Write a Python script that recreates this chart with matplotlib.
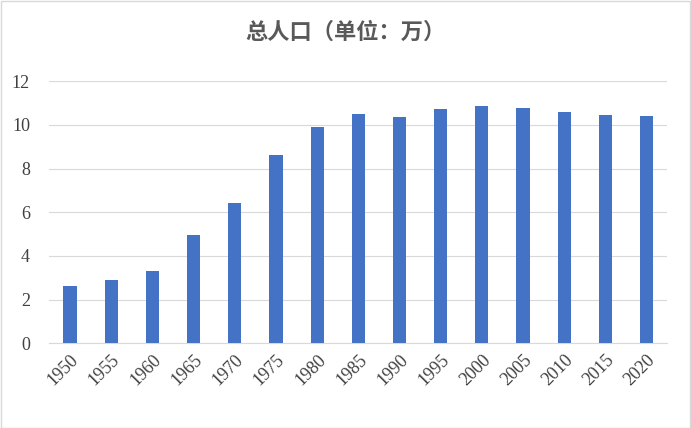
import matplotlib
matplotlib.use("Agg")
import matplotlib.pyplot as plt

years = ["1950","1955","1960","1965","1970","1975","1980","1985","1990","1995","2000","2005","2010","2015","2020"]
values = [2.62, 2.9, 3.3, 4.97, 6.42, 8.62, 9.9, 10.5, 10.36, 10.73, 10.87, 10.78, 10.6, 10.46, 10.42]
title = "总人口（单位：万）"

fig = plt.figure(figsize=(6.91, 4.28), dpi=100)
ax = fig.add_axes([0.0716, 0.198, 0.894, 0.612])
x = range(len(years))
ax.bar(x, values, width=0.32, color="#4472C4", zorder=3)
ax.set_ylim(0, 12)
ax.set_yticks(range(0, 13, 2))
ax.set_xlim(-0.5, len(years) - 0.5)
ax.set_xticks(list(x))
ax.set_xticklabels(years, rotation=45, ha="right", rotation_mode="anchor",
                   fontfamily="Liberation Serif", fontsize=13, color="#404040")
for lab in ax.get_yticklabels():
    lab.set_fontfamily("Liberation Serif"); lab.set_fontsize(13); lab.set_color("#404040")
ax.grid(axis="y", color="#D9D9D9", linewidth=0.8, zorder=0)
for s in ["top", "right", "left"]:
    ax.spines[s].set_visible(False)
ax.spines["bottom"].set_color("#D9D9D9")
ax.tick_params(axis="y", length=0, pad=14)
ax.tick_params(axis="x", length=0, pad=6)
fig.text(0.5, 0.925, title, ha="center", va="center", fontsize=16, fontweight="bold",
         color="#595959", fontfamily=["Noto Sans CJK SC", "DejaVu Sans"])
fig.patches.append(plt.Rectangle((0.001, 0.001), 0.998, 0.997, transform=fig.transFigure,
                                 fill=False, edgecolor="#D9D9D9", linewidth=1))
fig.savefig("out.png", dpi=100)
